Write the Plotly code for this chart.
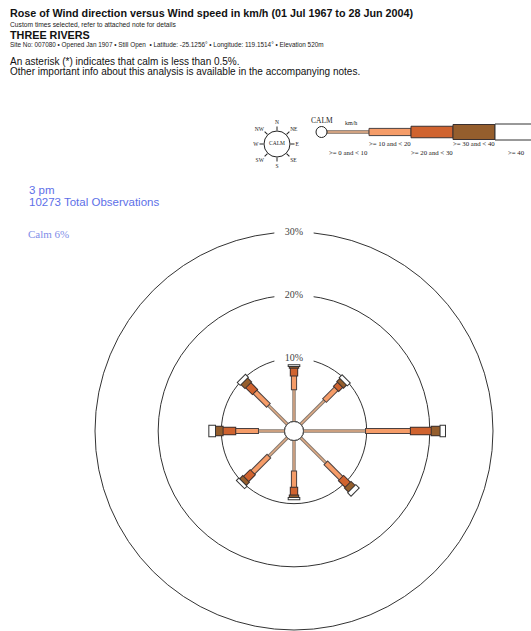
import plotly.graph_objects as go

W, H = 531, 631

# ---------------- data ----------------
directions = ['N', 'NE', 'E', 'SE', 'S', 'SW', 'W', 'NW']
dir_angles = [0, 45, 90, 135, 180, 225, 270, 315]
speed_bins = ['>= 0 and < 10', '>= 10 and < 20', '>= 20 and < 30', '>= 30 and < 40', '>= 40']
pct_0_10 = [5.1, 5.4, 9.9, 5.7, 4.9, 4.2, 4.2, 4.3]
pct_10_20 = [2.2, 2.6, 7.1, 3.4, 2.6, 3.6, 3.6, 3.0]
pct_20_30 = [1.2, 0.9, 3.3, 1.5, 1.2, 1.5, 2.0, 1.5]
pct_30_40 = [0.3, 0.7, 1.4, 0.9, 0.4, 0.7, 1.2, 0.9]
pct_40_up = [0.1, 0.5, 0.7, 0.6, 0.2, 0.4, 0.9, 0.5]
calm_pct = 6
ring_values = [10, 20, 30]
ring_labels = ['10%', '20%', '30%']
total_obs = 10273
time_label = '3 pm'

series = [pct_0_10, pct_10_20, pct_20_30, pct_30_40, pct_40_up]

# ---------------- styles ----------------
fill_colors = ['#e3ad86', '#f59c68', '#d0632f', '#955e2d', '#ffffff']
edge_colors = ['#85786e', '#4a4040', '#3a3030', '#3a3030', '#333333']
bar_widths = [1.4, 4.2, 6.4, 8.4, 10.6]        # fill width (px) in the rose
legend_heights = [2.6, 7.2, 11.5, 15, 16]      # legend bar heights (px)

R_PX = 199.0
HOLE_PX = 9.5
RMAX = 30
k_px = (R_PX - HOLE_PX) / RMAX
ext = 1.0 / k_px

cx, cy = 294, 431
pol_dom_x = [(cx - R_PX) / W, (cx + R_PX) / W]
pol_dom_y = [(H - cy - R_PX) / H, (H - cy + R_PX) / H]

fig = go.Figure()

# ring label masks (white) drawn first
fig.add_trace(go.Scatterpolar(
    r=ring_values, theta=[0] * len(ring_values), mode='markers',
    marker=dict(symbol='line-ew', size=28, color='white',
                line=dict(color='white', width=11)),
    cliponaxis=False, hoverinfo='skip', showlegend=False, subplot='polar'))

# bars
cum = [0.0] * len(directions)
for b, vals in enumerate(series):
    ro, to, rf, tf = [], [], [], []
    for d, ang in enumerate(dir_angles):
        s = cum[d]
        e = s + vals[d]
        ro += [max(s - ext, 0), e + ext, None]
        to += [ang, ang, None]
        rf += [s, e, None]
        tf += [ang, ang, None]
        cum[d] = e
    fig.add_trace(go.Scatterpolar(
        r=ro, theta=to, mode='lines',
        line=dict(color=edge_colors[b], width=bar_widths[b] + 2),
        hoverinfo='skip', showlegend=False, subplot='polar'))
    fig.add_trace(go.Scatterpolar(
        r=rf, theta=tf, mode='lines',
        line=dict(color=fill_colors[b], width=bar_widths[b]),
        name=speed_bins[b], hoverinfo='skip', showlegend=False, subplot='polar'))

# calm circle (hole boundary)
calm_theta = list(range(0, 361, 5))
fig.add_trace(go.Scatterpolar(
    r=[0] * len(calm_theta), theta=calm_theta, mode='lines',
    fill='toself', fillcolor='white',
    line=dict(color='#222', width=1),
    hoverinfo='skip', showlegend=False, subplot='polar'))

# ring labels
fig.add_trace(go.Scatterpolar(
    r=ring_values, theta=[0] * len(ring_values), mode='text',
    text=ring_labels, textposition='middle center',
    textfont=dict(family='Liberation Serif', size=10, color='#444'),
    cliponaxis=False, hoverinfo='skip', showlegend=False, subplot='polar'))

# compass icon (second polar)
fig.add_trace(go.Scatterpolar(
    r=[0], theta=[0], mode='text', text=['CALM'], textposition='middle center',
    textfont=dict(family='Liberation Serif', size=5.5, color='#222'),
    cliponaxis=False, hoverinfo='skip', showlegend=False, subplot='polar2'))

# ---------------- legend (cartesian helper axis) ----------------
shapes = []
for i in range(len(speed_bins)):
    h = legend_heights[i]
    shapes.append(dict(type='rect', xref='x', yref='y', x0=i, x1=i + 1,
                       y0=-h / 2, y1=h / 2, fillcolor=fill_colors[i],
                       line=dict(color=edge_colors[i], width=1), layer='above'))
unit = 42.0
shapes.append(dict(type='circle', xref='x', yref='y',
                   x0=-11.0 / unit, x1=0, y0=-5.5, y1=5.5,
                   fillcolor='white', line=dict(color='#222', width=1)))

# invisible anchor trace for legend axis
fig.add_trace(go.Scatter(x=[0], y=[0], mode='markers', marker=dict(opacity=0),
                         hoverinfo='skip', showlegend=False, xaxis='x', yaxis='y'))

annotations = []
label_y = [-20, -11, -20, -11, -20]
for i, lab in enumerate(speed_bins):
    annotations.append(dict(x=i + 0.5, y=label_y[i], xref='x', yref='y', text=lab,
                            showarrow=False, xanchor='center', yanchor='middle',
                            font=dict(family='Liberation Serif', size=6.8, color='#222')))
annotations.append(dict(x=-5.5 / unit, y=12, xref='x', yref='y', text='CALM',
                        showarrow=False, xanchor='center', yanchor='middle',
                        font=dict(family='Liberation Serif', size=7.5, color='#222')))
annotations.append(dict(x=24 / unit, y=9, xref='x', yref='y', text='km/h',
                        showarrow=False, xanchor='center', yanchor='middle',
                        font=dict(family='Liberation Serif', size=6, color='#222')))


def txt(x, y, text, size, color='#111', family='Liberation Sans', bold=False):
    annotations.append(dict(x=x / W, y=1 - y / H, xref='paper', yref='paper',
                            text=('<b>%s</b>' % text) if bold else text,
                            showarrow=False, xanchor='left', yanchor='middle',
                            borderpad=0,
                            font=dict(family=family, size=size, color=color)))


txt(9, 13, 'Rose of Wind direction versus Wind speed in km/h (01 Jul 1967 to 28 Jun 2004)', 10.75, bold=True)
txt(9, 24, 'Custom times selected, refer to attached note for details', 6.7, '#222')
txt(9, 35, 'THREE RIVERS', 10.8, bold=True)
txt(9, 45.5, 'Site No: 007080 • Opened Jan 1907 • Still Open  • Latitude: -25.1256° • Longitude: 119.1514° • Elevation 520m', 6.4, '#222')
txt(9, 61, 'An asterisk (*) indicates that calm is less than 0.5%.', 10, '#111')
txt(9, 72, 'Other important info about this analysis is available in the accompanying notes.', 10, '#111')
txt(28, 189.5, time_label, 11.5, '#5d6fe8')
txt(28, 202, '%d Total Observations' % total_obs, 11.5, '#5d6fe8')
txt(27, 234, 'Calm %d%%' % calm_pct, 11, '#7f8ee8', family='Liberation Serif')

leg_x0_px, leg_x1_px = 240, 531
leg_y_top, leg_y_bot = 110, 170
fig.update_layout(
    width=W, height=H, margin=dict(l=0, r=0, t=0, b=0),
    paper_bgcolor='white', plot_bgcolor='rgba(0,0,0,0)',
    showlegend=False,
    xaxis=dict(domain=[leg_x0_px / W, leg_x1_px / W],
               range=[(leg_x0_px - 327) / unit, (leg_x1_px - 327) / unit],
               visible=False, fixedrange=True),
    yaxis=dict(domain=[(H - leg_y_bot) / H, (H - leg_y_top) / H],
               range=[-(leg_y_bot - 132), (132 - leg_y_top)],
               visible=False, fixedrange=True),
    polar=dict(
        domain=dict(x=pol_dom_x, y=pol_dom_y),
        bgcolor='rgba(0,0,0,0)',
        hole=HOLE_PX / R_PX,
        radialaxis=dict(range=[0, RMAX], tickvals=ring_values[:-1], showticklabels=False,
                        ticks='', showline=False, gridcolor='#333', gridwidth=1,
                        layer='below traces'),
        angularaxis=dict(rotation=90, direction='clockwise', showgrid=False,
                         showticklabels=False, ticks='', showline=True,
                         linecolor='#333', linewidth=1, layer='below traces'),
    ),
    polar2=dict(
        domain=dict(x=[264 / W, 290 / W], y=[(H - 157) / H, (H - 131) / H]),
        bgcolor='rgba(0,0,0,0)',
        radialaxis=dict(visible=False, range=[0, 1]),
        angularaxis=dict(rotation=90, direction='clockwise', showgrid=False,
                         tickmode='array', tickvals=dir_angles, ticktext=directions,
                         ticks='outside', ticklen=4, tickcolor='#222', tickwidth=1,
                         showline=True, linecolor='#222', linewidth=1,
                         tickfont=dict(family='Liberation Serif', size=5.5, color='#222')),
    ),
    shapes=shapes,
    annotations=annotations,
)

fig.write_html("out.html", config={'displayModeBar': False},
               post_script="document.body.style.margin='0px';")
